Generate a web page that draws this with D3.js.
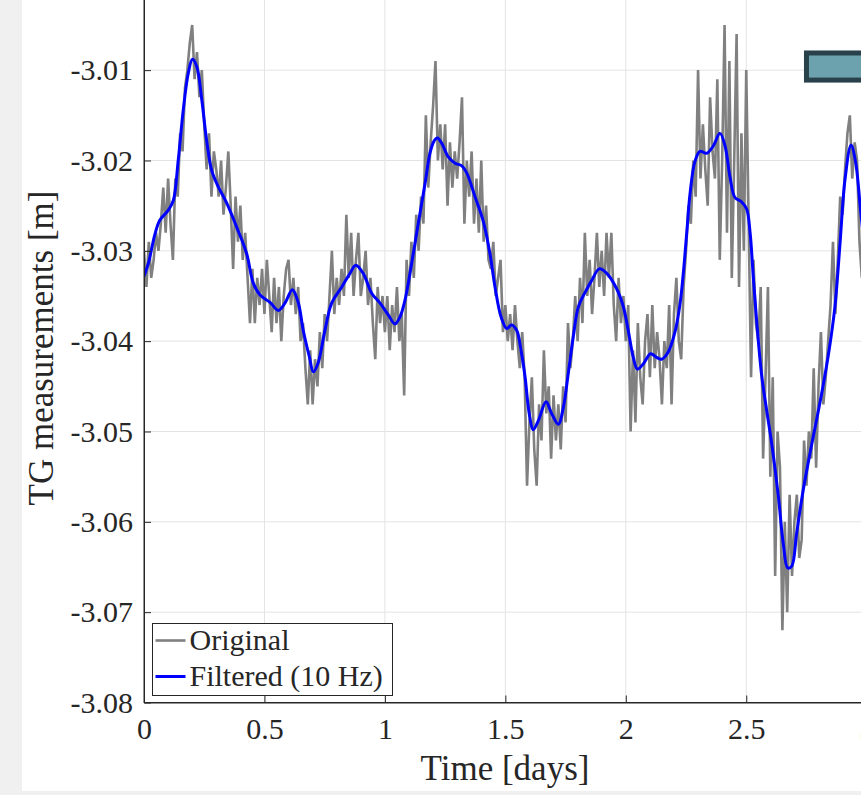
<!DOCTYPE html>
<html>
<head>
<meta charset="utf-8">
<script src="https://cdn.jsdelivr.net/npm/d3@7"></script>
<style>
  html, body { margin: 0; padding: 0; background: #f0f0f0; }
  svg { display: block; }
</style>
</head>
<body>
<div id="chart"></div>
<script>
// axis ticks
const xTicks = [0, 0.5, 1, 1.5, 2, 2.5, 3];
const xTickLabels = ["0", "0.5", "1", "1.5", "2", "2.5", "3"];
const yTicks = [-3.08, -3.07, -3.06, -3.05, -3.04, -3.03, -3.02, -3.01];
const yTickLabels = ["-3.08", "-3.07", "-3.06", "-3.05", "-3.04", "-3.03", "-3.02", "-3.01"];

const seriesNames = ["Original", "Filtered (10 Hz)"];

// original TG record, one sample every 0.01 day starting at day 0
const originalStart = 0;
const originalStep = 0.01;
const originalValues = [
  -3.030,-3.034,-3.029,-3.033,-3.031,-3.028,-3.030,-3.027,-3.023,-3.028,
  -3.022,-3.027,-3.031,-3.022,-3.024,-3.017,-3.019,-3.012,-3.010,-3.007,
  -3.005,-3.011,-3.008,-3.013,-3.010,-3.016,-3.021,-3.017,-3.024,-3.019,
  -3.021,-3.024,-3.020,-3.026,-3.023,-3.019,-3.025,-3.032,-3.024,-3.029,
  -3.025,-3.031,-3.028,-3.033,-3.038,-3.032,-3.038,-3.033,-3.036,-3.032,
  -3.037,-3.031,-3.035,-3.039,-3.033,-3.038,-3.034,-3.040,-3.035,-3.032,
  -3.031,-3.036,-3.033,-3.037,-3.034,-3.040,-3.038,-3.043,-3.047,-3.041,
  -3.047,-3.042,-3.045,-3.039,-3.043,-3.037,-3.040,-3.035,-3.030,-3.037,
  -3.033,-3.036,-3.032,-3.035,-3.026,-3.033,-3.028,-3.035,-3.031,-3.028,
  -3.035,-3.033,-3.030,-3.036,-3.033,-3.038,-3.042,-3.034,-3.038,-3.035,
  -3.039,-3.035,-3.041,-3.036,-3.039,-3.034,-3.040,-3.037,-3.046,-3.031,
  -3.035,-3.029,-3.033,-3.026,-3.030,-3.024,-3.027,-3.015,-3.023,-3.018,
  -3.014,-3.009,-3.020,-3.016,-3.021,-3.016,-3.025,-3.018,-3.023,-3.019,
  -3.022,-3.018,-3.013,-3.027,-3.020,-3.024,-3.019,-3.027,-3.022,-3.028,
  -3.020,-3.029,-3.025,-3.031,-3.032,-3.029,-3.035,-3.033,-3.031,-3.039,
  -3.036,-3.040,-3.037,-3.041,-3.036,-3.040,-3.043,-3.039,-3.044,-3.056,
  -3.049,-3.044,-3.052,-3.056,-3.047,-3.051,-3.041,-3.048,-3.045,-3.053,
  -3.046,-3.051,-3.047,-3.052,-3.045,-3.049,-3.038,-3.043,-3.040,-3.035,
  -3.040,-3.033,-3.038,-3.028,-3.035,-3.031,-3.037,-3.033,-3.028,-3.034,
  -3.030,-3.035,-3.028,-3.033,-3.028,-3.036,-3.040,-3.033,-3.038,-3.035,
  -3.040,-3.036,-3.050,-3.041,-3.049,-3.038,-3.044,-3.047,-3.040,-3.037,
  -3.044,-3.036,-3.043,-3.039,-3.042,-3.047,-3.040,-3.043,-3.036,-3.047,
  -3.037,-3.033,-3.040,-3.042,-3.034,-3.030,-3.025,-3.027,-3.020,-3.024,
  -3.010,-3.022,-3.016,-3.021,-3.025,-3.013,-3.019,-3.022,-3.011,-3.031,
  -3.020,-3.005,-3.028,-3.009,-3.033,-3.020,-3.006,-3.034,-3.017,-3.030,
  -3.010,-3.027,-3.044,-3.031,-3.038,-3.040,-3.034,-3.053,-3.044,-3.034,
  -3.055,-3.044,-3.066,-3.050,-3.054,-3.072,-3.060,-3.070,-3.057,-3.066,
  -3.060,-3.057,-3.064,-3.062,-3.051,-3.056,-3.050,-3.053,-3.043,-3.054,
  -3.045,-3.039,-3.047,-3.044,-3.040,-3.036,-3.029,-3.037,-3.031,-3.024,
  -3.026,-3.021,-3.017,-3.015,-3.022,-3.018,-3.020,-3.029,-3.033,-3.027,
  -3.033
];

// filtered (10 Hz) curve
const filteredTime = [
  0.000,0.018,0.046,0.066,0.101,0.122,0.142,0.163,0.184,0.201,0.219,0.240,0.260,0.281,0.308,
  0.343,0.385,0.426,0.454,0.482,0.523,0.558,0.585,0.616,0.641,0.661,0.686,0.703,0.724,0.751,
  0.779,0.821,0.855,0.879,0.910,0.945,0.980,1.014,1.042,1.063,1.083,1.111,1.139,1.167,1.187,
  1.205,1.218,1.236,1.263,1.291,1.319,1.340,1.374,1.409,1.436,1.457,1.482,1.506,1.526,1.547,
  1.565,1.582,1.599,1.616,1.637,1.669,1.692,1.720,1.741,1.761,1.782,1.803,1.831,1.858,1.890,
  1.921,1.962,1.990,2.010,2.031,2.048,2.073,2.103,2.128,2.149,2.176,2.204,2.225,2.239,2.253,
  2.267,2.287,2.308,2.336,2.363,2.391,2.412,2.433,2.453,2.481,2.502,2.516,2.529,2.543,2.564,
  2.585,2.606,2.633,2.654,2.672,2.689,2.709,2.737,2.772,2.806,2.841,2.868,2.889,2.910,2.935,
  2.954,2.976,3.000
];
const filteredValues = [
  -3.0328,-3.0314,-3.0281,-3.0266,-3.0255,-3.0244,-3.0200,-3.0144,-3.0103,-3.0088,-3.0096,-3.0133,-3.0178,-3.0211,-3.0229,
  -3.0247,-3.0274,-3.0303,-3.0336,-3.0349,-3.0357,-3.0366,-3.0358,-3.0343,-3.0358,-3.0388,-3.0417,-3.0434,-3.0423,-3.0388,
  -3.0358,-3.0340,-3.0325,-3.0316,-3.0325,-3.0347,-3.0358,-3.0371,-3.0381,-3.0373,-3.0355,-3.0314,-3.0269,-3.0225,-3.0192,
  -3.0178,-3.0175,-3.0181,-3.0196,-3.0203,-3.0206,-3.0214,-3.0240,-3.0268,-3.0303,-3.0340,-3.0373,-3.0386,-3.0382,-3.0388,
  -3.0410,-3.0440,-3.0480,-3.0498,-3.0488,-3.0467,-3.0480,-3.0492,-3.0473,-3.0436,-3.0395,-3.0362,-3.0346,-3.0333,-3.0320,
  -3.0325,-3.0342,-3.0362,-3.0388,-3.0418,-3.0431,-3.0425,-3.0414,-3.0418,-3.0420,-3.0412,-3.0390,-3.0359,-3.0324,-3.0280,
  -3.0236,-3.0201,-3.0190,-3.0192,-3.0184,-3.0170,-3.0184,-3.0219,-3.0241,-3.0246,-3.0254,-3.0280,-3.0328,-3.0377,-3.0438,
  -3.0477,-3.0514,-3.0571,-3.0625,-3.0651,-3.0649,-3.0613,-3.0564,-3.0514,-3.0468,-3.0415,-3.0362,-3.0293,-3.0221,-3.0183,
  -3.0202,-3.0259,-3.0316
];

// text box annotation sticking in from the right edge (data coords)
const boxX = [2.75, 3.3];
const boxY = [-3.0081, -3.0111];

const width = 861;
const height = 795;
const plot = { left: 144, right: 866.7, top: -20.2, bottom: 702.5 };
const ink = "#262626";
const serif = "'Liberation Serif', 'Times New Roman', serif";

const xScale = d3.scaleLinear().domain([0, 3]).range([plot.left, plot.right]);
const yScale = d3.scaleLinear().domain([-3.08, -3.0]).range([plot.bottom, plot.top]);

const svg = d3.select("#chart")
  .append("svg")
  .attr("width", width)
  .attr("height", height)
  .attr("viewBox", [0, 0, width, height]);

// white figure area
svg.append("rect")
  .attr("x", 22).attr("y", 0)
  .attr("width", width - 22).attr("height", 791)
  .attr("fill", "#ffffff");

svg.append("defs").append("clipPath").attr("id", "plot-clip")
  .append("rect")
  .attr("x", plot.left).attr("y", plot.top)
  .attr("width", plot.right - plot.left).attr("height", plot.bottom - plot.top);

// grid
const grid = svg.append("g").attr("stroke", "#e3e3e3").attr("stroke-width", 1);
grid.selectAll("line.gx")
  .data(xTicks.slice(1, -1))
  .join("line")
  .attr("x1", (d) => xScale(d)).attr("x2", (d) => xScale(d))
  .attr("y1", plot.top).attr("y2", plot.bottom);
grid.selectAll("line.gy")
  .data(yTicks.slice(1))
  .join("line")
  .attr("x1", plot.left).attr("x2", plot.right)
  .attr("y1", (d) => yScale(d)).attr("y2", (d) => yScale(d));

// data
const originalPoints = originalValues.map((v, i) => [originalStart + i * originalStep, v]);
const filteredPoints = filteredTime.map((t, i) => [t, filteredValues[i]]);

const dataLayer = svg.append("g").attr("clip-path", "url(#plot-clip)");

dataLayer.append("path")
  .datum(originalPoints)
  .attr("fill", "none")
  .attr("stroke", "#808080")
  .attr("stroke-width", 2.6)
  .attr("stroke-linejoin", "miter")
  .attr("d", d3.line().x((d) => xScale(d[0])).y((d) => yScale(d[1])));

dataLayer.append("path")
  .datum(filteredPoints)
  .attr("fill", "none")
  .attr("stroke", "#0000ff")
  .attr("stroke-width", 3)
  .attr("d", d3.line().curve(d3.curveCatmullRom.alpha(0.5)).x((d) => xScale(d[0])).y((d) => yScale(d[1])));

// axes
const styleAxis = (g) => {
  g.attr("font-family", serif).attr("font-size", 30);
  g.select(".domain").attr("stroke", ink);
  g.selectAll(".tick line").attr("stroke", ink);
  g.selectAll(".tick text").attr("fill", ink);
};

svg.append("g")
  .attr("transform", `translate(0,${plot.bottom})`)
  .call(d3.axisBottom(xScale)
    .tickValues(xTicks)
    .tickFormat((d, i) => xTickLabels[i])
    .tickSizeInner(-7)
    .tickSizeOuter(0)
    .tickPadding(15))
  .call(styleAxis);

svg.append("g")
  .attr("transform", `translate(${plot.left},0)`)
  .call(d3.axisLeft(yScale)
    .tickValues(yTicks)
    .tickFormat((d, i) => yTickLabels[i])
    .tickSizeInner(-7)
    .tickSizeOuter(0)
    .tickPadding(11))
  .call(styleAxis);

// box top/right (mostly off the visible area)
svg.append("rect")
  .attr("x", plot.left).attr("y", plot.top)
  .attr("width", plot.right - plot.left).attr("height", plot.bottom - plot.top)
  .attr("fill", "none").attr("stroke", ink).attr("stroke-width", 1);

// axis labels
svg.append("text")
  .attr("x", 505).attr("y", 780)
  .attr("text-anchor", "middle")
  .attr("font-family", serif).attr("font-size", 35)
  .attr("fill", ink)
  .text("Time [days]");

svg.append("text")
  .attr("transform", "translate(53,348) rotate(-90)")
  .attr("text-anchor", "middle")
  .attr("font-family", serif).attr("font-size", 35)
  .attr("fill", ink)
  .text("TG measurements [m]");

// annotation box
svg.append("rect")
  .attr("x", xScale(boxX[0])).attr("y", yScale(boxY[0]))
  .attr("width", xScale(boxX[1]) - xScale(boxX[0]))
  .attr("height", yScale(boxY[1]) - yScale(boxY[0]))
  .attr("fill", "#6ca2ad")
  .attr("stroke", "#29414a")
  .attr("stroke-width", 5);

// legend
const legend = svg.append("g").attr("transform", "translate(152.5,623.5)");
legend.append("rect")
  .attr("width", 240).attr("height", 72)
  .attr("fill", "#ffffff").attr("stroke", ink).attr("stroke-width", 1);
const legendColors = ["#808080", "#0000ff"];
const legendWidths = [2.6, 3];
seriesNames.forEach((name, i) => {
  const cy = 17 + i * 36;
  legend.append("line")
    .attr("x1", 3).attr("x2", 33).attr("y1", cy).attr("y2", cy)
    .attr("stroke", legendColors[i]).attr("stroke-width", legendWidths[i]);
  legend.append("text")
    .attr("x", 37).attr("y", cy + 9)
    .attr("font-family", serif).attr("font-size", 30)
    .attr("fill", ink)
    .text(name);
});
</script>
</body>
</html>
